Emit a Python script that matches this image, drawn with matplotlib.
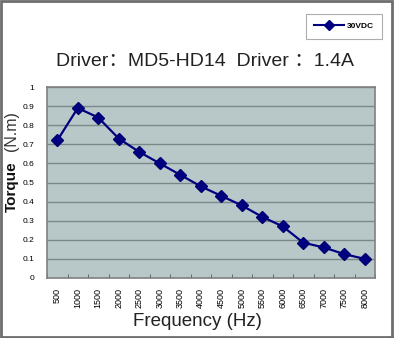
import matplotlib
matplotlib.use("Agg")
import matplotlib.pyplot as plt
from matplotlib.lines import Line2D
import numpy as np

plt.rcParams["font.family"] = ["Liberation Sans", "Noto Sans CJK SC", "DejaVu Sans"]

freqs = ["500", "1000", "1500", "2000", "2500", "3000", "3500", "4000",
         "4500", "5000", "5500", "6000", "6500", "7000", "7500", "8000"]
torque = [0.72, 0.89, 0.84, 0.73, 0.66, 0.60, 0.54, 0.48,
          0.43, 0.38, 0.32, 0.27, 0.185, 0.16, 0.125, 0.10]
series_name = "30VDC"
yticks = [0, 0.1, 0.2, 0.3, 0.4, 0.5, 0.6, 0.7, 0.8, 0.9, 1]
ytick_labels = ["0", "0.1", "0.2", "0.3", "0.4", "0.5", "0.6", "0.7", "0.8", "0.9", "1"]

W, H = 394, 338
fig = plt.figure(figsize=(W / 100, H / 100), dpi=100)
fig.patch.set_facecolor("white")

# outer frame
fig.add_artist(plt.Rectangle((0.002, 0.003), 0.992, 0.993, transform=fig.transFigure,
                             fill=False, edgecolor="#6e6e6e", linewidth=2))

ax = fig.add_axes([47 / W, 1 - 278 / H, (375 - 47) / W, (278 - 87) / H])
ax.set_facecolor("#b8c8c9")
x = np.arange(len(freqs))
ax.plot(x, torque, color="#000080", marker="D", markersize=6, linewidth=1.6,
        markeredgecolor="#000070")
ax.set_xlim(-0.5, len(freqs) - 0.5)
ax.set_ylim(0, 1)
ax.set_yticks(yticks)
ax.set_yticklabels(ytick_labels, fontsize=6)
ax.yaxis.grid(True, color="#7a8888", linewidth=1)
ax.set_axisbelow(True)
ax.set_xticks(x)
ax.set_xticklabels(freqs, rotation=90, fontsize=6.5)
ax.set_xticks(np.arange(-0.5, len(freqs), 1), minor=True)
ax.tick_params(axis="x", which="major", length=0, pad=7)
ax.tick_params(axis="x", which="minor", length=3, direction="in", color="#555555")
ax.tick_params(axis="y", length=0, pad=9)
for s in ax.spines.values():
    s.set_color("#808080")
    s.set_linewidth(1.2)

fig.text(12 / W, 1 - 187 / H, "Torque", rotation=90, fontsize=11, fontweight="bold",
         ha="center", va="center", color="#111111")
fig.text(12 / W, 1 - 131 / H, "(N.m)", rotation=90, fontsize=11.5,
         ha="center", va="center", color="#333333")
fig.text(197 / W, 1 - 322 / H, "Frequency (Hz)", fontsize=13.5, ha="center", va="center",
         color="#222222")
fig.text(205 / W, 1 - 62 / H, "Driver\uff1aMD5-HD14  Driver \uff1a1.4A", fontsize=14,
         ha="center", va="center", color="#222222")

handle = Line2D([], [], color="#000080", marker="D", markersize=5, linewidth=1.5)
leg = fig.legend([handle], [series_name], loc="upper right",
                 bbox_to_anchor=(382 / W, 1 - 14 / H),
                 prop={"weight": "bold", "size": 6}, frameon=True, fancybox=False,
                 handlelength=3.6, borderpad=1.0, handletextpad=0.3, borderaxespad=0)
leg.get_frame().set_edgecolor("#999999")
leg.get_frame().set_linewidth(0.8)

fig.savefig("out.png", dpi=100)
